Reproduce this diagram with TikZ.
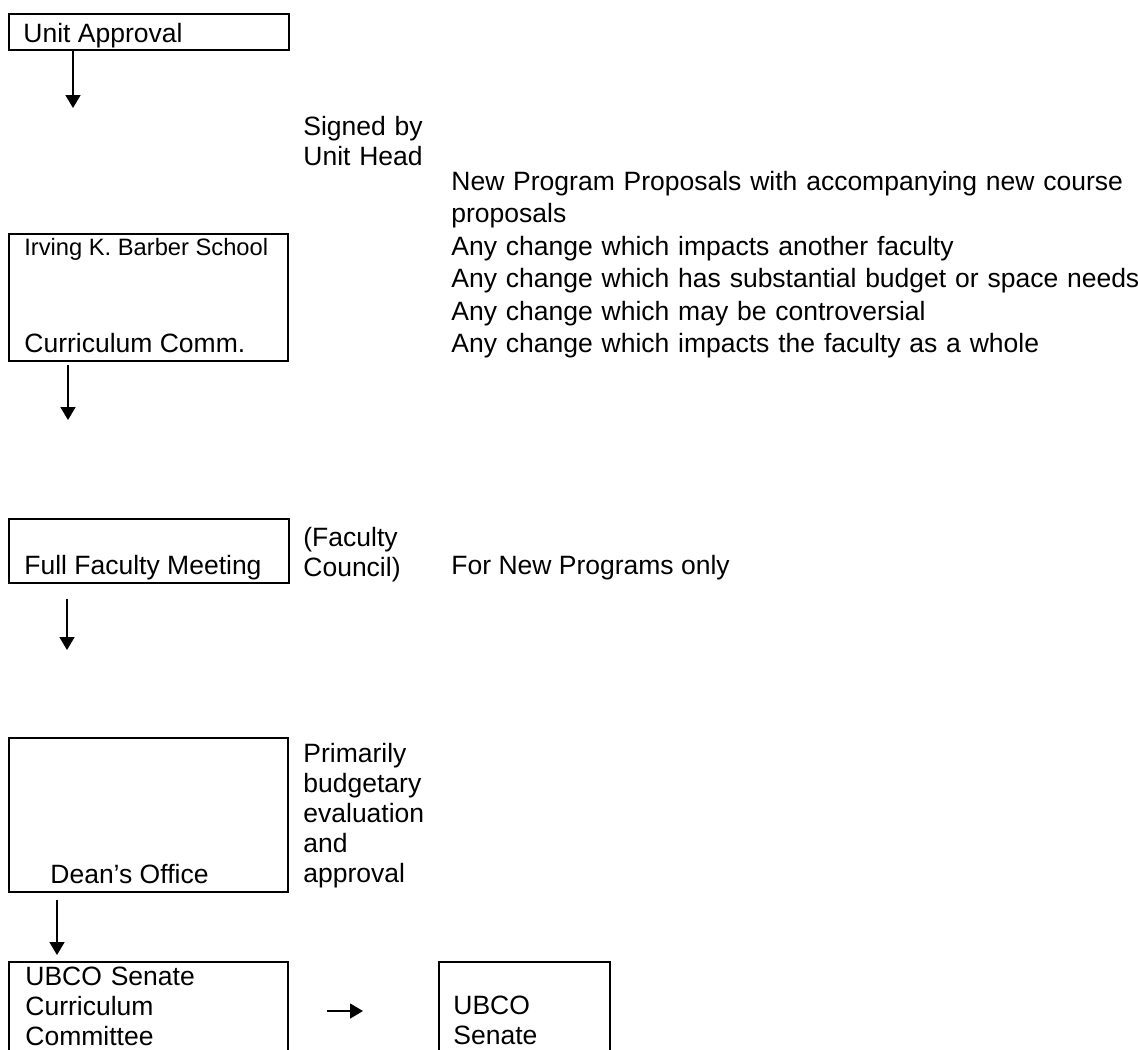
\documentclass[tikz,border=0pt]{standalone}
\usepackage{fontspec}
\setmainfont{Liberation Sans}
\usetikzlibrary{arrows.meta,positioning}
\tikzstyle{box} = [rectangle, draw, line width=0.9pt, inner sep=0pt, anchor=north west]
\tikzstyle{txt} = [inner sep=0pt, anchor=base west, font=\fontsize{13.25}{15}\selectfont]
\tikzstyle{smalltxt} = [txt, font=\fontsize{11.85}{14}\selectfont]
\tikzstyle{para} = [txt, text width=#1, align=left]
\tikzstyle{flow} = [->, line width=0.8pt]

\begin{document}
\begin{tikzpicture}[x=0.5pt, y=-0.5pt, >={Triangle[length=6.5pt, width=7.5pt]}]
    \useasboundingbox (0,0) rectangle (1138,1049);
    % boxes
    \node[box, minimum width=140pt, minimum height=18pt] (unit) at (8,13) {};
    \node[box, minimum width=139.5pt, minimum height=63.5pt] (barber) at (8,233) {};
    \node[box, minimum width=140pt, minimum height=32pt] (faculty) at (8,518) {};
    \node[box, minimum width=139.5pt, minimum height=77pt] (dean) at (8,737) {};
    \node[box, minimum width=139.5pt, minimum height=60pt] (senatecc) at (8,961) {};
    \node[box, minimum width=85.5pt, minimum height=60pt] (senate) at (438,961) {};

    % texts in the boxes
    \node[txt] (unittxt) at (23,42) {Unit Approval};
    \node[smalltxt] (barbertxt) at (24,255) {Irving K. Barber School};
    \node[txt] (commtxt) at (24,352) {Curriculum Comm.};
    \node[txt] (facultytxt) at (24,574) {Full Faculty Meeting};
    \node[txt] (deantxt) at (50,883) {Dean’s Office};
    \node[para=130pt] (senatecctxt) at (25,985) {UBCO Senate\\Curriculum\\Committee};
    \node[para=80pt] (senatetxt) at (453,1014) {UBCO\\Senate};

    % side notes
    \node[para=80pt] (signed) at (303,135) {Signed by\\Unit Head};
    \node[para=345pt, font=\fontsize{13.25}{16.25}\selectfont] (changes) at (451,190)
        {New Program Proposals with accompanying new course\\
        proposals\\
        Any change which impacts another faculty\\
        Any change which has substantial budget or space needs\\
        Any change which may be controversial\\
        Any change which impacts the faculty as a whole};
    \node[para=80pt] (council) at (303,546) {(Faculty\\Council)};
    \node[txt] (newonly) at (451,574) {For New Programs only};
    \node[para=80pt] (budget) at (303,762) {Primarily\\budgetary\\evaluation\\and\\approval};

    % arrows
    \coordinate (e1) at (73,108);
    \coordinate (e2) at (68,420);
    \coordinate (e3) at (67,650);
    \coordinate (e4) at (57,955);
    \coordinate (h) at (0,1011);
    \draw[flow] (unit.south -| e1) -- (e1);
    \draw[flow, shorten <=1.5pt] (barber.south -| e2) -- (e2);
    \draw[flow, shorten <=7.5pt] (faculty.south -| e3) -- (e3);
    \draw[flow, shorten <=3.5pt] (dean.south -| e4) -- (e4);
    \draw[flow, shorten <=19pt, shorten >=37.5pt] (senatecc.east |- h) -- (senate.west |- h);
\end{tikzpicture}
\end{document}
